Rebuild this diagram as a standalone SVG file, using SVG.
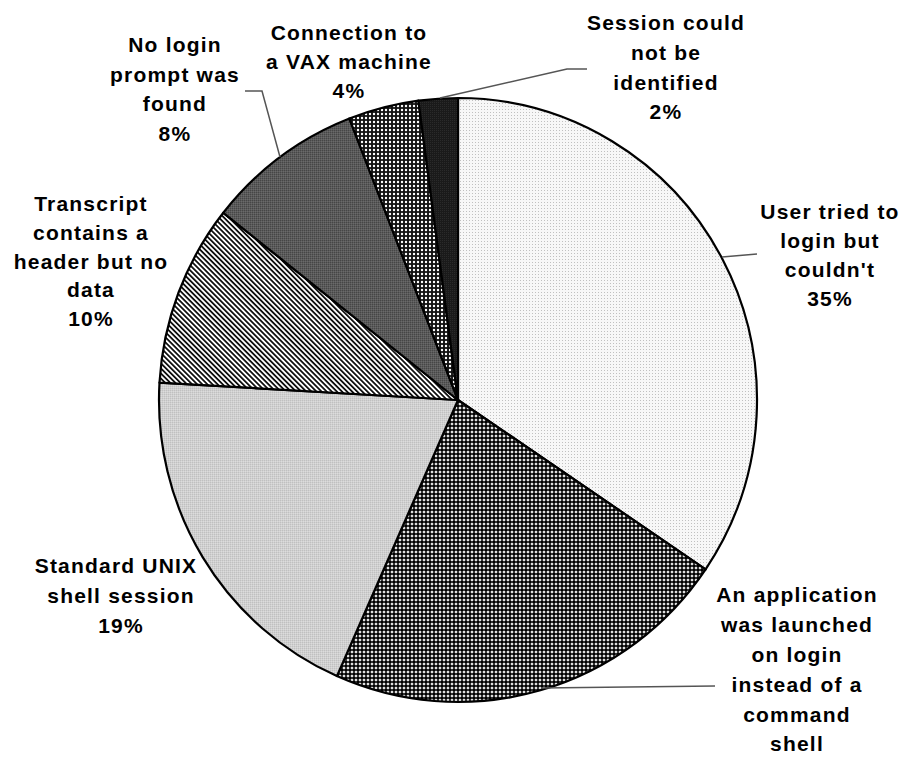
<svg xmlns="http://www.w3.org/2000/svg" width="904" height="767" viewBox="0 0 904 767">
  <style>
    .slice { stroke: #000; stroke-width: 2.2; stroke-linejoin: round; }
    .lbl { font-family: "Liberation Sans", Arial, sans-serif; font-weight: bold; font-size: 21px; letter-spacing: 1.2px; fill: #000; text-anchor: middle; }
    .lead { fill: none; stroke: #555; stroke-width: 1.5; }
  </style>
  <defs>
    <!-- sparse light dots -->
    <pattern id="pDots" width="3" height="3" patternUnits="userSpaceOnUse">
      <rect width="3" height="3" fill="#f7f7f7"/>
      <rect x="1" y="1" width="1" height="1" fill="#c0c0c0"/>
    </pattern>
    <!-- black dot grid on white -->
    <pattern id="pGrid" width="4" height="4" patternUnits="userSpaceOnUse">
      <rect width="4" height="4" fill="#fff"/>
      <circle cx="2" cy="2" r="1.8" fill="#000"/>
      <rect x="0" y="1.5" width="4" height="1" fill="#000"/>
      <rect x="1.5" y="0" width="1" height="4" fill="#000"/>
    </pattern>
    <!-- fine light grey texture -->
    <pattern id="pLight" width="2" height="2" patternUnits="userSpaceOnUse">
      <rect width="2" height="2" fill="#d0d0d0"/>
      <rect width="1" height="1" fill="#c0c0c0"/>
      <rect x="1" y="1" width="1" height="1" fill="#dcdcdc"/>
    </pattern>
    <!-- diagonal hatching -->
    <pattern id="pHatch" width="3.6" height="3.6" patternUnits="userSpaceOnUse" patternTransform="rotate(-45)">
      <rect width="3.6" height="3.6" fill="#fff"/>
      <rect x="0" y="0" width="1.8" height="3.6" fill="#111"/>
    </pattern>
    <!-- dark grey texture -->
    <pattern id="pDark" width="2" height="2" patternUnits="userSpaceOnUse">
      <rect width="2" height="2" fill="#5a5a5a"/>
      <rect width="1" height="1" fill="#464646"/>
      <rect x="1" y="1" width="1" height="1" fill="#6a6a6a"/>
    </pattern>
    <!-- white dots on black -->
    <pattern id="pInv" width="4" height="4" patternUnits="userSpaceOnUse">
      <rect width="4" height="4" fill="#111"/>
      <circle cx="2" cy="2" r="1.2" fill="#fff"/>
    </pattern>
    <!-- near-black -->
    <pattern id="pBlack" width="2" height="2" patternUnits="userSpaceOnUse">
      <rect width="2" height="2" fill="#1a1a1a"/>
      <rect width="1" height="1" fill="#2a2a2a"/>
    </pattern>
  </defs>

  <rect width="904" height="767" fill="#fff"/>

  <!-- pie slices, centre (458,400), radii 299 x 302 -->
  <g id="slice-user-tried">
    <path class="slice" fill="url(#pDots)" d="M458,400 L458,98 A299,302 0 0 1 705.6,569.3 Z"/>
  </g>
  <g id="slice-application">
    <path class="slice" fill="url(#pGrid)" d="M458,400 L705.6,569.3 A299,302 0 0 1 336.9,676.1 Z"/>
  </g>
  <g id="slice-unix-shell">
    <path class="slice" fill="url(#pLight)" d="M458,400 L336.9,676.1 A299,302 0 0 1 159.5,382.6 Z"/>
  </g>
  <g id="slice-header-only">
    <path class="slice" fill="url(#pHatch)" d="M458,400 L159.5,382.6 A299,302 0 0 1 223.3,212.8 Z"/>
  </g>
  <g id="slice-no-prompt">
    <path class="slice" fill="url(#pDark)" d="M458,400 L223.3,212.8 A299,302 0 0 1 349.4,118.6 Z"/>
  </g>
  <g id="slice-vax">
    <path class="slice" fill="url(#pInv)" d="M458,400 L349.4,118.6 A299,302 0 0 1 418.4,100.7 Z"/>
  </g>
  <g id="slice-unidentified">
    <path class="slice" fill="url(#pBlack)" d="M458,400 L418.4,100.7 A299,302 0 0 1 458,98 Z"/>
  </g>

  <!-- leader lines -->
  <g id="connectors">
    <polyline class="lead" points="440,98 567,69 587,69"/>
    <polyline class="lead" points="722,257 757,254"/>
    <polyline class="lead" points="245,91 262,91 280,157"/>
    <polyline class="lead" points="541,688 715,686"/>
  </g>

  <!-- labels -->
  <g id="label-unidentified">
    <text class="lbl" x="666" y="30">Session could</text>
    <text class="lbl" x="666" y="60">not be</text>
    <text class="lbl" x="666" y="90">identified</text>
    <text class="lbl" x="666" y="119">2%</text>
  </g>
  <g id="label-vax">
    <text class="lbl" x="349" y="40">Connection to</text>
    <text class="lbl" x="349" y="69">a VAX machine</text>
    <text class="lbl" x="349" y="98">4%</text>
  </g>
  <g id="label-no-prompt">
    <text class="lbl" x="175" y="52">No login</text>
    <text class="lbl" x="175" y="82">prompt was</text>
    <text class="lbl" x="175" y="111">found</text>
    <text class="lbl" x="175" y="141">8%</text>
  </g>
  <g id="label-header-only">
    <text class="lbl" x="91" y="211">Transcript</text>
    <text class="lbl" x="91" y="240">contains a</text>
    <text class="lbl" x="91" y="269">header but no</text>
    <text class="lbl" x="91" y="297">data</text>
    <text class="lbl" x="91" y="326">10%</text>
  </g>
  <g id="label-user-tried">
    <text class="lbl" x="830" y="219">User tried to</text>
    <text class="lbl" x="830" y="248">login but</text>
    <text class="lbl" x="830" y="277">couldn't</text>
    <text class="lbl" x="830" y="306">35%</text>
  </g>
  <g id="label-unix-shell">
    <text class="lbl" x="116" y="573">Standard UNIX</text>
    <text class="lbl" x="121" y="603">shell session</text>
    <text class="lbl" x="121" y="633">19%</text>
  </g>
  <g id="label-application">
    <text class="lbl" x="797" y="602">An application</text>
    <text class="lbl" x="797" y="632">was launched</text>
    <text class="lbl" x="797" y="662">on login</text>
    <text class="lbl" x="797" y="692">instead of a</text>
    <text class="lbl" x="797" y="722">command</text>
    <text class="lbl" x="797" y="751">shell</text>
    <text class="lbl" x="797" y="781">22%</text>
  </g>
</svg>
